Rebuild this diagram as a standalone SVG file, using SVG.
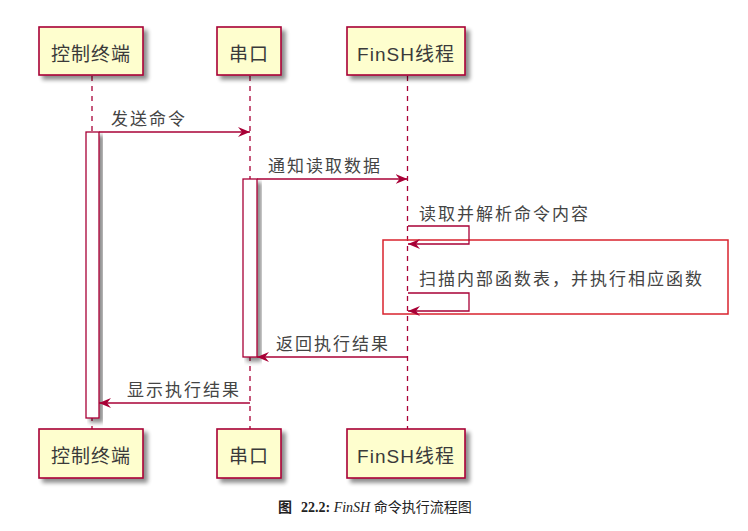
<svg xmlns="http://www.w3.org/2000/svg" width="748" height="531" viewBox="0 0 748 531">
<defs>
<filter id="sh" x="-20%" y="-20%" width="150%" height="150%">
<feGaussianBlur in="SourceAlpha" stdDeviation="2"/>
<feOffset dx="4" dy="4" result="b"/>
<feComponentTransfer><feFuncA type="linear" slope="0.45"/></feComponentTransfer>
<feMerge><feMergeNode/><feMergeNode in="SourceGraphic"/></feMerge>
</filter>
<marker id="ah" viewBox="0 0 12 10" refX="12" refY="5" markerWidth="12" markerHeight="10" markerUnits="userSpaceOnUse" orient="auto">
<polygon points="0,0 12,5 0,10 4,5" fill="#A80036"/>
</marker>
</defs>
<style>
.box{fill:#FEFECE;stroke:#A80036;stroke-width:1.6;filter:url(#sh)}
.lbl{font-family:"Liberation Sans","Noto Sans CJK SC",sans-serif;font-size:19px;letter-spacing:1px;fill:#3a3a3a;text-anchor:middle}
.msg{font-family:"Noto Sans CJK SC",sans-serif;font-size:17px;letter-spacing:2px;fill:#444}
.life{stroke:#A80036;stroke-width:1.3;stroke-dasharray:5,5;fill:none}
.act{fill:#fff;stroke:#A80036;stroke-width:1.3;filter:url(#sh)}
.arr{stroke:#A80036;stroke-width:1.3;fill:none;marker-end:url(#ah)}
</style>
<rect width="748" height="531" fill="#fff"/>
<g id="lifelines">
<line class="life" x1="92" y1="76" x2="92" y2="429"/>
<line class="life" x1="250" y1="76" x2="250" y2="429"/>
<line class="life" x1="407.5" y1="76" x2="407.5" y2="429"/>
</g>
<g id="activations">
<rect class="act" x="86" y="132" width="13" height="286"/>
<rect class="act" x="243" y="179" width="14" height="178"/>
</g>
<g id="p1-top"><rect class="box" x="39" y="27" width="104" height="48"/><text class="lbl" x="91" y="61">控制终端</text></g>
<g id="p2-top"><rect class="box" x="217" y="27" width="64" height="48"/><text class="lbl" x="249" y="61">串口</text></g>
<g id="p3-top"><rect class="box" x="347" y="27" width="118" height="48"/><text class="lbl" x="406" y="61">FinSH线程</text></g>
<g id="p1-bottom"><rect class="box" x="39" y="429" width="104" height="49"/><text class="lbl" x="91" y="463">控制终端</text></g>
<g id="p2-bottom"><rect class="box" x="217" y="429" width="64" height="49"/><text class="lbl" x="249" y="463">串口</text></g>
<g id="p3-bottom"><rect class="box" x="347" y="429" width="118" height="49"/><text class="lbl" x="406" y="463">FinSH线程</text></g>
<g id="group-box"><rect x="383" y="240" width="345" height="74" fill="none" stroke="#D9232E" stroke-width="1.5"/></g>
<g id="connectors">
<line class="arr" x1="99" y1="132" x2="250" y2="132"/>
<line class="arr" x1="257" y1="179" x2="407.5" y2="179"/>
<polyline class="arr" points="408,226 469,226 469,244 408,244"/>
<polyline class="arr" points="408,293 469,293 469,311 408,311"/>
<line class="arr" x1="407.5" y1="357" x2="257" y2="357"/>
<line class="arr" x1="250" y1="403" x2="99" y2="403"/>
</g>
<g id="labels">
<text class="msg" x="111" y="125">发送命令</text>
<text class="msg" x="268" y="172">通知读取数据</text>
<text class="msg" x="419" y="220">读取并解析命令内容</text>
<text class="msg" x="419" y="285">扫描内部函数表，并执行相应函数</text>
<text class="msg" x="276" y="350">返回执行结果</text>
<text class="msg" x="127" y="396">显示执行结果</text>
</g>
<g id="caption" font-family="'Liberation Serif','Noto Sans CJK SC',serif" font-size="14" fill="#222">
<text x="278" y="512"><tspan font-weight="bold">图</tspan><tspan x="301" font-weight="bold">22.2:</tspan><tspan font-style="italic"> FinSH </tspan><tspan>命令执行流程图</tspan></text>
</g>
</svg>
